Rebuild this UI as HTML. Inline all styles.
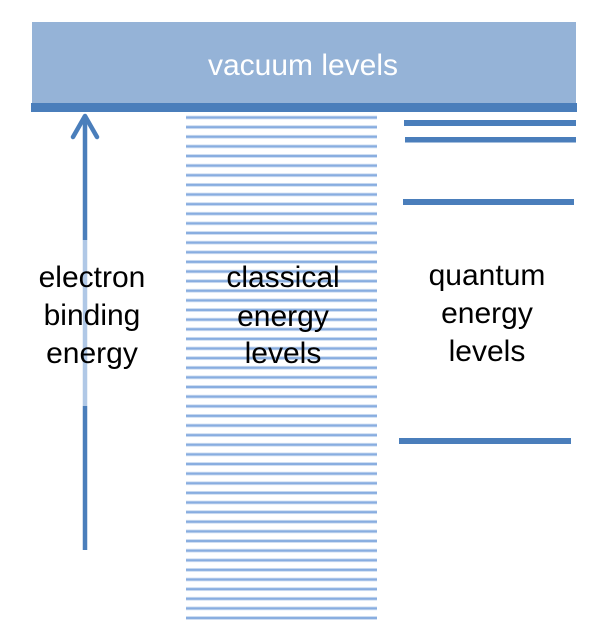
<!DOCTYPE html>
<html><head><meta charset="utf-8"><style>body{margin:0;background:#fff}svg{display:block}text{font-family:"Liberation Sans",Arial,sans-serif}</style></head>
<body>
<svg width="600" height="644" viewBox="0 0 600 644" xmlns="http://www.w3.org/2000/svg">
<defs>
<pattern id="p" patternUnits="userSpaceOnUse" x="0" y="112.7" width="600" height="9.625">
<rect x="0" y="3" width="600" height="3.6" fill="#c6d8f0"/>
<rect x="0" y="3.8" width="600" height="2" fill="#88ade0"/>
</pattern>
</defs>
<rect x="32" y="22" width="544" height="82" fill="#95b3d7"/>
<rect x="31" y="103" width="546" height="9" fill="#4a7ebb"/>
<text x="303" y="75" font-size="30" fill="#fff" text-anchor="middle">vacuum levels</text>
<rect x="186" y="114" width="191" height="507" fill="url(#p)"/>
<rect x="404" y="120" width="172" height="6" fill="#4a7ebb"/>
<rect x="405" y="137" width="171" height="5.5" fill="#4a7ebb"/>
<rect x="403" y="199" width="171" height="6" fill="#4a7ebb"/>
<rect x="399" y="438" width="172" height="6" fill="#4a7ebb"/>
<line x1="85" y1="117" x2="85" y2="240" stroke="#4a7ebb" stroke-width="4.5"/>
<line x1="85" y1="240" x2="85" y2="406" stroke="#b0c8e6" stroke-width="4.5"/>
<line x1="85" y1="406" x2="85" y2="550" stroke="#4a7ebb" stroke-width="4.5"/>
<polyline points="73,137 85,116 97,137" fill="none" stroke="#4a7ebb" stroke-width="4.5" stroke-linecap="round" stroke-linejoin="round"/>
<g font-size="30" fill="#000" text-anchor="middle">
<text x="92" y="287">electron</text>
<text x="92" y="325">binding</text>
<text x="92" y="363">energy</text>
<text x="283" y="287">classical</text>
<text x="283" y="326">energy</text>
<text x="283" y="363">levels</text>
<text x="487" y="285">quantum</text>
<text x="487" y="323">energy</text>
<text x="487" y="361">levels</text>
</g>
</svg>
</body></html>
